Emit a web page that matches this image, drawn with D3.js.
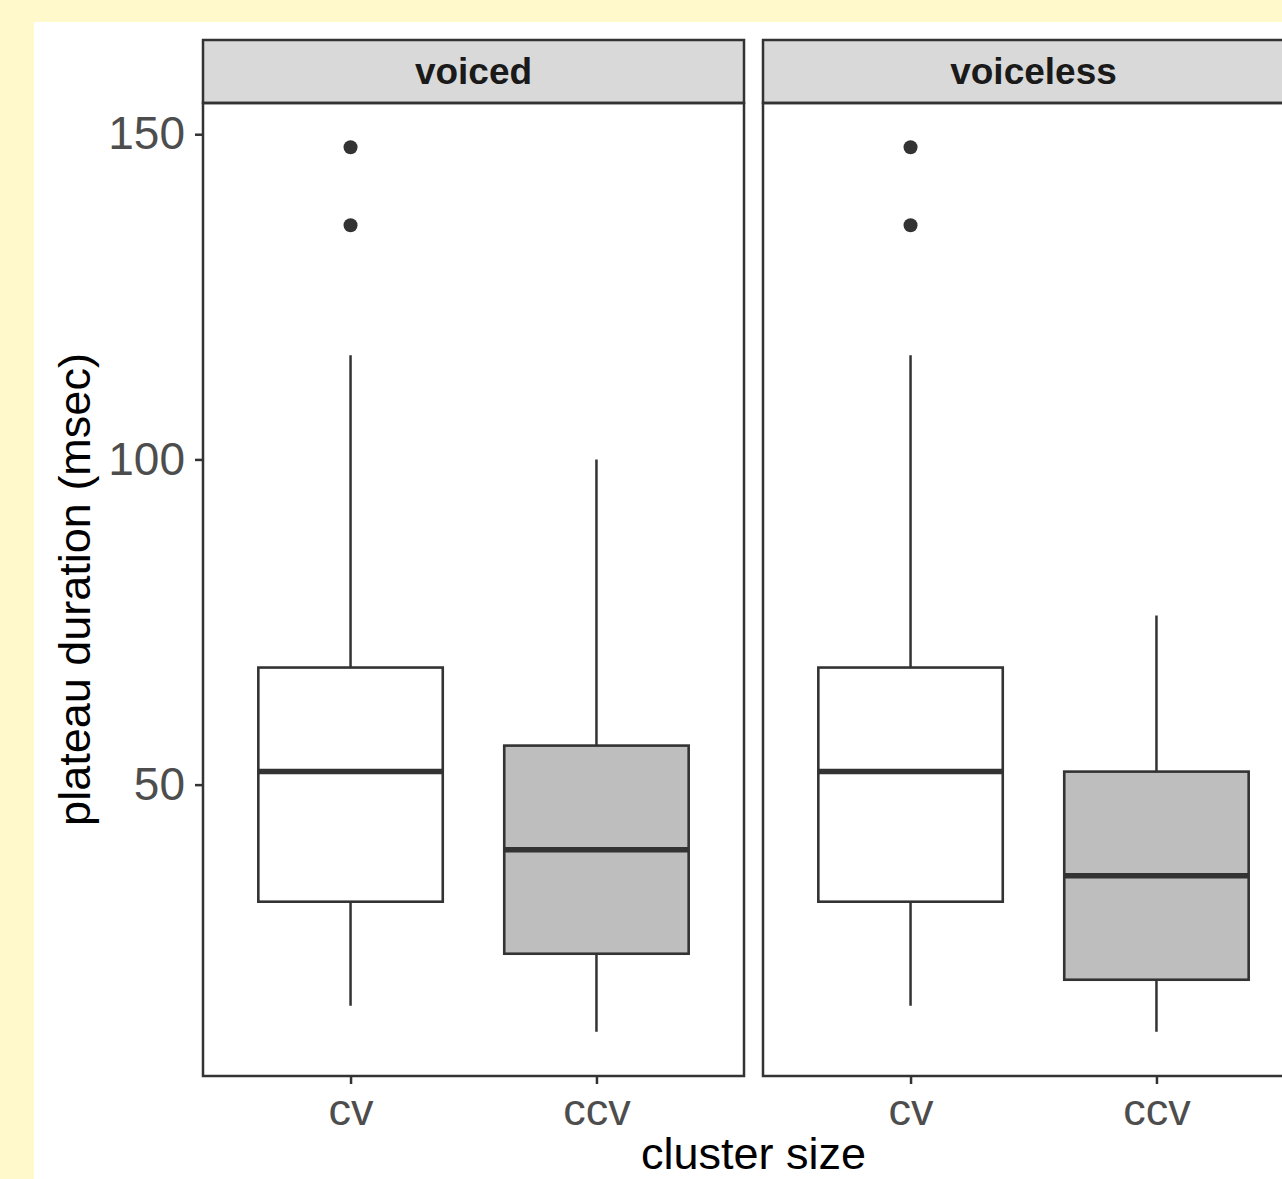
<!DOCTYPE html>
<html>
<head>
<meta charset="utf-8">
<script src="https://cdn.jsdelivr.net/npm/d3@7"></script>
<style>
  html, body { margin: 0; padding: 0; overflow: hidden; background: #fff9cc; }
  svg { display: block; }
  text { font-family: "Liberation Sans", Arial, Helvetica, sans-serif; }
</style>
</head>
<body>
<svg id="chart" width="1282" height="1179"></svg>
<script>
// facets and x categories
const facets = ["voiced", "voiceless"];
const clusterSizes = ["cv", "ccv"];
const boxFills = ["#ffffff", "#bebebe"];

// box statistics (msec), one value per cluster size
const voicedLow = [16, 12];
const voicedQ1 = [32, 24];
const voicedMedian = [52, 40];
const voicedQ3 = [68, 56];
const voicedHigh = [116, 100];
const voicedOutliers = [[136, 148], []];

const voicelessLow = [16, 12];
const voicelessQ1 = [32, 20];
const voicelessMedian = [52, 36];
const voicelessQ3 = [68, 52];
const voicelessHigh = [116, 76];
const voicelessOutliers = [[136, 148], []];

const yTicks = [50, 100, 150];

const stats = {
  voiced: { low: voicedLow, q1: voicedQ1, med: voicedMedian, q3: voicedQ3, high: voicedHigh, out: voicedOutliers },
  voiceless: { low: voicelessLow, q1: voicelessQ1, med: voicelessMedian, q3: voicelessQ3, high: voicelessHigh, out: voicelessOutliers }
};

const svg = d3.select('#chart');
const ink = '#333333';

// white plot area over the yellow page
svg.append('rect')
  .attr('x', 34).attr('y', 22)
  .attr('width', 1282 - 34).attr('height', 1179 - 22)
  .attr('fill', '#ffffff');

const panelTop = 103, panelBottom = 1076, stripTop = 40;
const panelW = 541, panelGap = 19, panelLeft = 203;

// y scale with ggplot-style 5% expansion around the data range
const allVals = [].concat(voicedLow, voicedHigh, voicelessLow, voicelessHigh, ...voicedOutliers, ...voicelessOutliers);
const yMin = d3.min(allVals), yMax = d3.max(allVals);
const pad = (yMax - yMin) * 0.05;
const y = d3.scaleLinear().domain([yMin - pad, yMax + pad]).range([panelBottom, panelTop]);

facets.forEach((facet, i) => {
  const x0 = panelLeft + i * (panelW + panelGap);
  const x = d3.scalePoint().domain(clusterSizes).range([x0, x0 + panelW]).padding(0.6);
  const boxW = x.step() * 0.75;
  const s = stats[facet];
  const g = svg.append('g');

  // strip
  g.append('rect')
    .attr('x', x0).attr('y', stripTop)
    .attr('width', panelW).attr('height', panelTop - stripTop)
    .attr('fill', '#d9d9d9').attr('stroke', ink).attr('stroke-width', 2.5);
  g.append('text')
    .attr('x', x0 + panelW / 2).attr('y', (stripTop + panelTop) / 2)
    .attr('dy', '0.35em')
    .attr('text-anchor', 'middle')
    .attr('font-size', 37).attr('font-weight', 'bold')
    .attr('fill', '#1a1a1a')
    .text(facet);

  // boxes
  clusterSizes.forEach((c, j) => {
    const cx = x(c);
    g.append('line')
      .attr('x1', cx).attr('x2', cx)
      .attr('y1', y(s.high[j])).attr('y2', y(s.q3[j]))
      .attr('stroke', ink).attr('stroke-width', 2.5);
    g.append('line')
      .attr('x1', cx).attr('x2', cx)
      .attr('y1', y(s.q1[j])).attr('y2', y(s.low[j]))
      .attr('stroke', ink).attr('stroke-width', 2.5);
    g.append('rect')
      .attr('x', cx - boxW / 2).attr('y', y(s.q3[j]))
      .attr('width', boxW).attr('height', y(s.q1[j]) - y(s.q3[j]))
      .attr('fill', boxFills[j]).attr('stroke', ink).attr('stroke-width', 2.6);
    g.append('line')
      .attr('x1', cx - boxW / 2).attr('x2', cx + boxW / 2)
      .attr('y1', y(s.med[j])).attr('y2', y(s.med[j]))
      .attr('stroke', ink).attr('stroke-width', 5.5);
    g.selectAll(null)
      .data(s.out[j])
      .enter().append('circle')
      .attr('cx', cx).attr('cy', d => y(d))
      .attr('r', 7).attr('fill', ink);
  });

  // panel border
  g.append('rect')
    .attr('x', x0).attr('y', panelTop)
    .attr('width', panelW).attr('height', panelBottom - panelTop)
    .attr('fill', 'none').attr('stroke', ink).attr('stroke-width', 2.5);

  // x axis
  const xa = svg.append('g')
    .attr('transform', `translate(0,${panelBottom})`)
    .call(d3.axisBottom(x).tickSize(8).tickPadding(9));
  xa.select('.domain').remove();
  xa.selectAll('.tick line').attr('stroke', ink).attr('stroke-width', 2.5);
  xa.selectAll('.tick text').attr('font-size', 45).attr('fill', '#4d4d4d')
    .attr('font-family', '"Liberation Sans", Arial, sans-serif');

  // y axis only on the first panel
  if (i === 0) {
    const ya = svg.append('g')
      .attr('transform', `translate(${x0},0)`)
      .call(d3.axisLeft(y).tickValues(yTicks).tickSize(8).tickPadding(10));
    ya.select('.domain').remove();
    ya.selectAll('.tick line').attr('stroke', ink).attr('stroke-width', 2.5);
    ya.selectAll('.tick text').attr('font-size', 46).attr('fill', '#4d4d4d')
      .attr('font-family', '"Liberation Sans", Arial, sans-serif');
  }
});

// axis titles
const fullRight = panelLeft + 2 * panelW + panelGap;
svg.append('text')
  .attr('x', (panelLeft + fullRight) / 2).attr('y', 1169)
  .attr('text-anchor', 'middle')
  .attr('font-size', 45).attr('fill', '#000')
  .text('cluster size');

svg.append('text')
  .attr('transform', `translate(90,${(panelTop + panelBottom) / 2}) rotate(-90)`)
  .attr('text-anchor', 'middle')
  .attr('font-size', 45).attr('fill', '#000')
  .text('plateau duration (msec)');
</script>
</body>
</html>
